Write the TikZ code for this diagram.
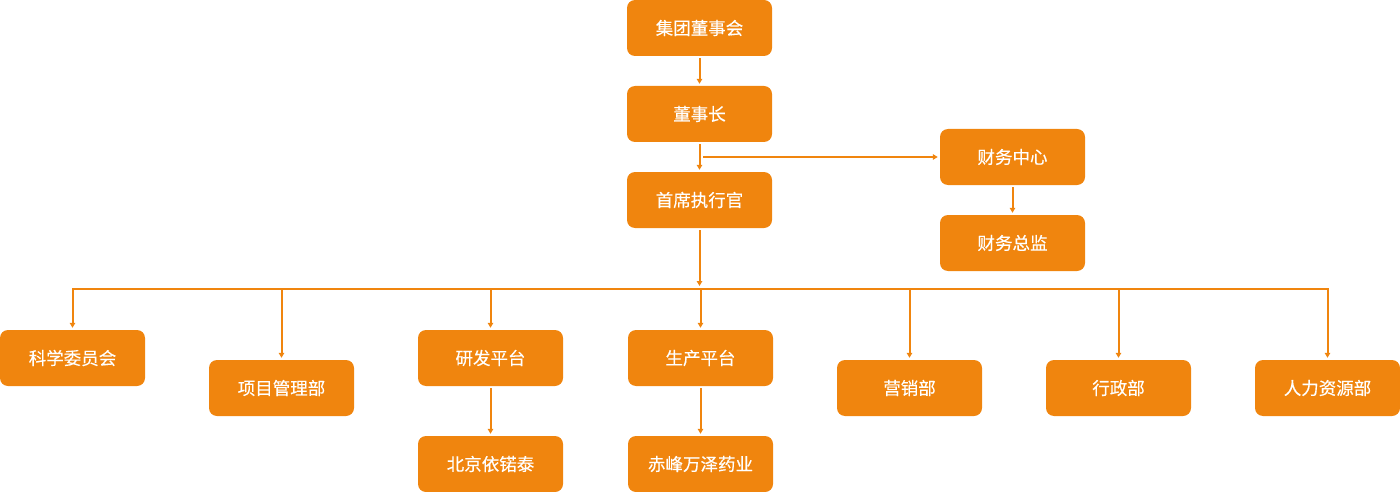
\documentclass[tikz,border=0pt]{standalone}
\usepackage{fontspec}
\newfontfamily\cjk[FakeBold=0.3]{Noto Sans CJK SC}
\usetikzlibrary{arrows.meta}
\definecolor{org}{HTML}{F0850E}
\begin{document}
\begin{tikzpicture}[x=1pt,y=-1pt,
  box/.style={fill=org,rounded corners=8pt,minimum width=145pt,minimum height=56pt,inner sep=0pt,text=white,font=\cjk\fontsize{17.5}{20}\selectfont},
  conn/.style={draw=org,line width=2pt,-{Triangle[length=5pt,width=5.5pt]}},
  bus/.style={draw=org,line width=2pt}]
\useasboundingbox (0,0) rectangle (1400,492);
\node[box] (jt) at (699.5,28) {集团董事会};
\node[box] (dsz) at (699.5,114) {董事长};
\node[box] (ceo) at (699.5,200) {首席执行官};
\node[box] (cwzx) at (1012.5,157) {财务中心};
\node[box] (cwzj) at (1012.5,243) {财务总监};
\node[box] (kx) at (72.5,358) {科学委员会};
\node[box] (xm) at (281.5,388) {项目管理部};
\node[box] (yf) at (490.5,358) {研发平台};
\node[box] (sc) at (700.5,358) {生产平台};
\node[box] (yx) at (909.5,388) {营销部};
\node[box] (xz) at (1118.5,388) {行政部};
\node[box] (rl) at (1327.5,388) {人力资源部};
\node[box] (bj) at (490.5,464) {北京依锘泰};
\node[box] (cf) at (700.5,464) {赤峰万泽药业};
\coordinate (busL) at (72,289);
\coordinate (busR) at (1329,289);
\coordinate (midS) at (703,157);
\draw[conn] ([yshift=-2pt]jt.south) -- ([yshift=2pt]dsz.north);
\draw[conn] ([yshift=-2pt]dsz.south) -- ([yshift=2pt]ceo.north);
\draw[conn] (midS) -- ([xshift=-2pt]cwzx.west);
\draw[conn] ([yshift=-2pt]cwzx.south) -- ([yshift=2pt]cwzj.north);
\draw[conn] ([yshift=-2pt]ceo.south) -- ([yshift=3pt]ceo.south |- busL);
\draw[bus] (busL) -- (busR);
\foreach \n in {kx,xm,yf,sc,yx,xz,rl}{
  \draw[conn] ([yshift=1pt]\n.north |- busL) -- ([yshift=2pt]\n.north);
}
\draw[conn] ([yshift=-2pt]yf.south) -- ([yshift=2pt]bj.north);
\draw[conn] ([yshift=-2pt]sc.south) -- ([yshift=2pt]cf.north);
\end{tikzpicture}
\end{document}
